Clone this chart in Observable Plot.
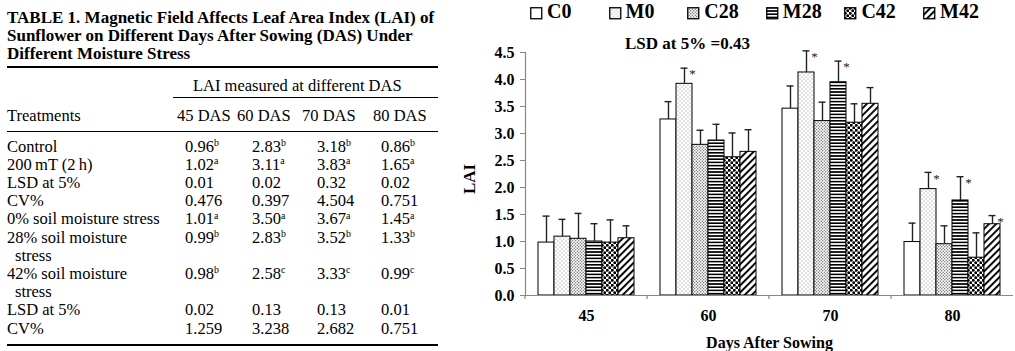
<!DOCTYPE html>
<html><head><meta charset="utf-8">
<script src="https://cdn.jsdelivr.net/npm/d3@7"></script>
<script src="https://cdn.jsdelivr.net/npm/@observablehq/plot@0.6"></script>
<style>
html,body{margin:0;padding:0;background:#fff;}
body{width:1015px;height:351px;position:relative;overflow:hidden;font-family:"Liberation Serif","Times New Roman",Times,serif;color:#000;}
.abs{position:absolute;white-space:nowrap;}
.title{font-weight:bold;font-size:17px;line-height:18px;}
.cell{font-size:16.5px;line-height:18.2px;}
.rule{position:absolute;background:#000;}
sup{font-size:0.6em;vertical-align:0;position:relative;top:-0.55em;}
.lgtext{font-weight:bold;font-size:20px;line-height:20px;}
</style>
</head><body>
<svg width="0" height="0" style="position:absolute">
  <defs>
    <pattern id="pat-C0" width="4" height="4" patternUnits="userSpaceOnUse"><rect width="4" height="4" fill="#fff"/></pattern>
    <pattern id="pat-M0" width="4" height="4" patternUnits="userSpaceOnUse"><rect width="4" height="4" fill="#fff"/><circle cx="1" cy="1" r="0.55" fill="#777"/><circle cx="3" cy="3" r="0.55" fill="#777"/></pattern>
    <pattern id="pat-C28" width="3" height="3" patternUnits="userSpaceOnUse"><rect width="3" height="3" fill="#fff"/><circle cx="0.75" cy="0.75" r="0.7" fill="#666"/><circle cx="2.25" cy="2.25" r="0.7" fill="#666"/></pattern>
    <pattern id="pat-M28" width="4" height="3.2" patternUnits="userSpaceOnUse"><rect width="4" height="3.2" fill="#fff"/><rect y="0" width="4" height="1.6" fill="#000"/></pattern>
    <pattern id="pat-C42" width="5" height="5" patternUnits="userSpaceOnUse"><rect width="5" height="5" fill="#fff"/><circle cx="1.25" cy="1.25" r="1.45" fill="#000"/><circle cx="3.75" cy="3.75" r="1.45" fill="#000"/></pattern>
    <pattern id="pat-M42" width="5" height="5" patternUnits="userSpaceOnUse" patternTransform="rotate(45)"><rect width="5" height="5" fill="#fff"/><rect x="0" width="1.9" height="5" fill="#000"/></pattern>
  </defs>
</svg>
<div id="table"></div>
<div id="legend"></div>
<div id="lsd" class="abs" style="left:625px;top:35px;font-weight:bold;font-size:17px;line-height:18px;"></div>
<div id="chart" style="position:absolute;left:460px;top:24px;"></div>
<script>
// ---- chart data ----
const treatments = ["C0", "M0", "C28", "M28", "C42", "M42"];
const dasLabels = ["45", "60", "70", "80"];
const laiC0  = [0.98, 3.26, 3.46, 0.99];
const laiM0  = [1.09, 3.92, 4.13, 1.97];
const laiC28 = [1.05, 2.79, 3.23, 0.95];
const laiM28 = [1.00, 2.87, 3.95, 1.76];
const laiC42 = [0.98, 2.56, 3.20, 0.70];
const laiM42 = [1.06, 2.66, 3.55, 1.32];
const errC0  = [0.49, 0.33, 0.42, 0.35];
const errM0  = [0.32, 0.29, 0.40, 0.31];
const errC28 = [0.47, 0.27, 0.35, 0.34];
const errM28 = [0.33, 0.30, 0.39, 0.44];
const errC42 = [0.42, 0.45, 0.35, 0.46];
const errM42 = [0.23, 0.41, 0.30, 0.16];
const starred = ["M0@60", "M0@70", "M28@70", "M0@80", "M28@80", "M42@80"];
const yTicks = [0, 0.5, 1, 1.5, 2, 2.5, 3, 3.5, 4, 4.5];
const yLabel = "LAI";
const xLabel = "Days After Sowing";
const lsdNote = "LSD at 5% =0.43";

// ---- table data ----
const tableTitle = ["TABLE 1. Magnetic Field Affects Leaf Area Index (LAI) of",
  "Sunflower on Different Days After Sowing (DAS) Under",
  "Different Moisture Stress"];
const tableSpan = "LAI measured at different DAS";
const tableHead = ["Treatments", "45 DAS", "60 DAS", "70 DAS", "80 DAS"];
const rowLabels = [["Control"], ["200\u2009mT (2\u2009h)"], ["LSD at 5%"], ["CV%"], ["0% soil moisture stress"],
  ["28% soil moisture", "stress"], ["42% soil moisture", "stress"], ["LSD at 5%"], ["CV%"]];
const rowValues = [["0.96","2.83","3.18","0.86"], ["1.02","3.11","3.83","1.65"], ["0.01","0.02","0.32","0.02"],
  ["0.476","0.397","4.504","0.751"], ["1.01","3.50","3.67","1.45"], ["0.99","2.83","3.52","1.33"],
  ["0.98","2.58","3.33","0.99"], ["0.02","0.13","0.13","0.01"], ["1.259","3.238","2.682","0.751"]];
const rowSups = [["b","b","b","b"], ["a","a","a","a"], null, null, ["a","a","a","a"], ["b","b","b","b"],
  ["b","c","c","c"], null, null];

// ---- build table ----
const T = document.getElementById("table");
function add(html, left, top, cls) {
  const d = document.createElement("div");
  d.className = "abs " + cls;
  d.style.left = left + "px"; d.style.top = top + "px";
  d.innerHTML = html; T.appendChild(d); return d;
}
function rule(left, top, w, h) {
  const d = document.createElement("div");
  d.className = "rule";
  Object.assign(d.style, {left: left + "px", top: top + "px", width: w + "px", height: h + "px"});
  T.appendChild(d);
}
tableTitle.forEach((s, i) => add(s, 7, 9 + i * 18, "title"));
rule(7, 66, 431, 2);
add(tableSpan, 193, 77, "cell");
rule(173, 96.5, 265, 1.3);
const headX = [7, 177, 237, 302, 373];
tableHead.forEach((s, i) => add(s, headX[i], 106.5, "cell"));
rule(7, 131, 431, 1.3);
const valX = [185, 252, 317, 381];
let line = 0;
rowLabels.forEach((lbls, r) => {
  const top = 137.5 + line * 18.2;
  lbls.forEach((l, k) => add(l, k === 0 ? 7 : 15, top + k * 18.2, "cell"));
  rowValues[r].forEach((v, c) => add(v + (rowSups[r] ? `<sup>${rowSups[r][c]}</sup>` : ""), valX[c], top, "cell"));
  line += lbls.length;
});
rule(7, 344, 431, 2);

// ---- legend ----
const L = document.getElementById("legend");
treatments.forEach((t, i) => {
  const x0 = 530 + i * 78.6;
  const sw = document.createElementNS("http://www.w3.org/2000/svg", "svg");
  sw.setAttribute("width", 13); sw.setAttribute("height", 13);
  sw.style.position = "absolute"; sw.style.left = x0 + "px"; sw.style.top = "6.5px";
  sw.innerHTML = `<rect x="0.75" y="0.75" width="11" height="11" fill="url(#pat-${t})" stroke="#000" stroke-width="1.3"/>`;
  L.appendChild(sw);
  const tx = document.createElement("div");
  tx.className = "abs lgtext"; tx.style.left = (x0 + 17) + "px"; tx.style.top = "1px";
  tx.textContent = t; L.appendChild(tx);
});
document.getElementById("lsd").textContent = lsdNote;

// ---- chart ----
const series = [laiC0, laiM0, laiC28, laiM28, laiC42, laiM42];
const errs = [errC0, errM0, errC28, errM28, errC42, errM42];
const rows = treatments.flatMap((t, i) => dasLabels.map((d, j) => ({
  t, das: d, v: series[i][j], hi: series[i][j] + errs[i][j], star: starred.includes(t + "@" + d)
})));

const boundaryTicks = (index, scales) => {
  const g = d3.create("svg:g");
  try {
    const x0 = scales.x.range()[0];
    const y0 = scales.y(0);
    g.append("line").attr("x1", x0).attr("x2", x0).attr("y1", y0).attr("y2", y0 + 4)
      .attr("stroke", "#888").attr("stroke-width", 1.2);
  } catch (e) {}
  return g.node();
};

const chart = Plot.plot({
  width: 555, height: 327,
  marginLeft: 64, marginRight: 2, marginTop: 28, marginBottom: 56,
  style: {fontFamily: "'Liberation Serif', 'Times New Roman', serif", fontWeight: "bold", fontSize: "16px", color: "#000", background: "transparent"},
  fx: {domain: dasLabels, padding: 0},
  x: {domain: treatments, paddingInner: 0, paddingOuter: 0.735, axis: null},
  y: {domain: [0, 4.5]},
  color: {type: "identity"},
  marks: [
    Plot.barY(rows, {fx: "das", x: "t", y: "v", fill: d => `url(#pat-${d.t})`, stroke: "#000", strokeWidth: 1, inset: 0}),
    Plot.ruleX(rows, {fx: "das", x: "t", y1: "v", y2: "hi", stroke: "#222", strokeWidth: 1.4}),
    Plot.tickY(rows, {fx: "das", x: "t", y: "hi", stroke: "#222", strokeWidth: 1.4, insetLeft: 4.5, insetRight: 4.5}),
    Plot.text(rows.filter(d => d.star), {fx: "das", x: "t", y: "hi", text: () => "*", dx: 8, dy: 6, fontSize: 13, fontWeight: "normal", fill: "#222"}),
    Plot.ruleY([0], {stroke: "#888", strokeWidth: 1.2}),
    Plot.frame({anchor: "left", facetAnchor: "left", stroke: "#888", strokeWidth: 1.2}),
    boundaryTicks,
    Plot.axisY(yTicks, {tickFormat: d => d.toFixed(1), tickSize: 5, tickPadding: 6, stroke: "#888", fill: "#000",
      label: null, fontSize: 16}),
    Plot.text([yLabel], {text: d => d, frameAnchor: "left", facetAnchor: "left", rotate: -90, dx: -56, dy: 20, fontSize: 17, fontWeight: "bold"}),
    Plot.axisFx({anchor: "bottom", tickSize: 0, tickPadding: 14, label: xLabel, labelAnchor: "center",
      labelOffset: 52, labelArrow: "none", fontSize: 16})
  ]
});
document.getElementById("chart").appendChild(chart);
</script>
</body></html>
